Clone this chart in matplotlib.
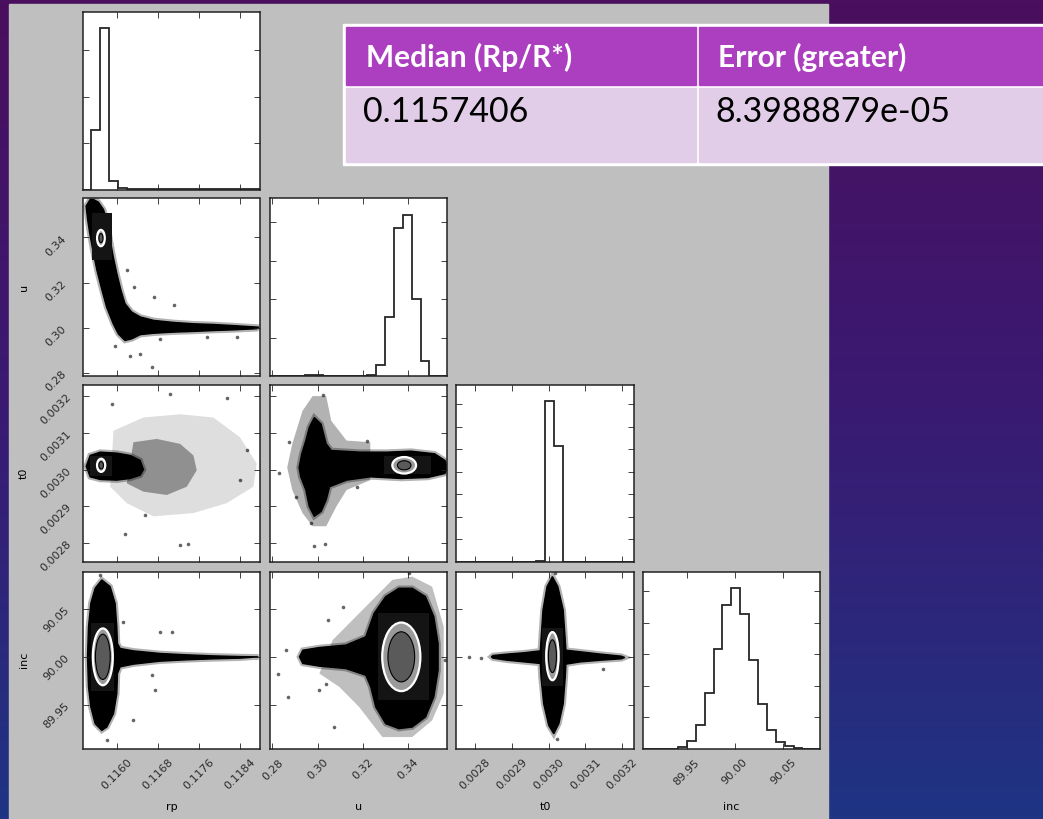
import numpy as np
import matplotlib.pyplot as plt
from matplotlib.patches import Polygon, Ellipse, Rectangle
from matplotlib.colors import LinearSegmentedColormap

W, H = 1043, 819

# parameter names, ranges and ticks
names = ['rp', 'u', 't0', 'inc']
lims = {'rp': (0.11533, 0.11880), 'u': (0.2787, 0.3572),
        't0': (0.002748, 0.003232), 'inc': (89.9043, 90.0886)}
ticks = {'rp': [0.1160, 0.1168, 0.1176, 0.1184],
         'u': [0.28, 0.30, 0.32, 0.34],
         't0': [0.0028, 0.0029, 0.0030, 0.0031, 0.0032],
         'inc': [89.95, 90.00, 90.05]}
tick_text = {'rp': ['0.1160', '0.1168', '0.1176', '0.1184'],
             'u': ['0.28', '0.30', '0.32', '0.34'],
             't0': ['0.0028', '0.0029', '0.0030', '0.0031', '0.0032'],
             'inc': ['89.95', '90.00', '90.05']}

# 1D histograms (20 bins over the range)
rp_counts = [0, 6370, 17390, 864, 108, 54, 32, 22, 11, 11, 5, 5, 3, 3, 2, 2, 1, 1, 1, 1]
u_counts = [15, 15, 15, 20, 30, 55, 20, 15, 15, 15, 20, 50, 573, 3053, 7690, 8404, 4012, 797, 15, 0]
t0_counts = [0, 0, 0, 0, 0, 0, 0, 0, 0, 44, 7156, 5156, 22, 0, 0, 0, 0, 0, 0, 0]
inc_counts = [0, 0, 0, 5, 63, 253, 758, 1769, 3169, 4579, 5116, 4274, 2821, 1432, 590, 211, 84, 32, 11, 5]
hist_step = {'rp': 5000, 'u': 2000, 't0': 1000, 'inc': 1000}

# 2D sample clouds, outlines
rp_u_cloud = [(0.11548, 0.3568), (0.11540, 0.3538), (0.11543, 0.3479), (0.11547, 0.3419),
              (0.11553, 0.3345), (0.11561, 0.3256), (0.11571, 0.3167), (0.11580, 0.3092),
              (0.11593, 0.3018), (0.11603, 0.2973), (0.11616, 0.2944), (0.11629, 0.2951),
              (0.11646, 0.2970), (0.11672, 0.2976), (0.11711, 0.2981), (0.11750, 0.2984),
              (0.11789, 0.2988), (0.11828, 0.2991), (0.11873, 0.2996), (0.11877, 0.3003),
              (0.11828, 0.3010), (0.11789, 0.3015), (0.11750, 0.3018), (0.11711, 0.3024),
              (0.11672, 0.3033), (0.11646, 0.3048), (0.11629, 0.3070), (0.11616, 0.3107),
              (0.11608, 0.3167), (0.11600, 0.3241), (0.11593, 0.3315), (0.11587, 0.3390),
              (0.11582, 0.3464), (0.11574, 0.3523), (0.11564, 0.3556), (0.11554, 0.3568)]
rp_u_strays = [(0.11626, 0.2877), (0.11668, 0.2829), (0.11646, 0.2884), (0.11620, 0.3256),
               (0.11633, 0.3181), (0.11672, 0.3137), (0.11711, 0.3100), (0.11597, 0.2921),
               (0.11685, 0.2951), (0.11834, 0.2958), (0.11776, 0.2958)]

rp_t0_cloud = [(0.115402, 0.0030090), (0.115480, 0.0030386), (0.115675, 0.0030476),
               (0.116000, 0.0030449), (0.116260, 0.0030386), (0.116455, 0.0030252),
               (0.116520, 0.0030000), (0.116455, 0.0029847), (0.116260, 0.0029757),
               (0.116000, 0.0029712), (0.115675, 0.0029730), (0.115480, 0.0029802)]
rp_t0_halo = [(0.116325, 0.0030746), (0.116780, 0.0030836), (0.117236, 0.0030701),
              (0.117496, 0.0030386), (0.117561, 0.0029982), (0.117366, 0.0029533),
              (0.116976, 0.0029308), (0.116520, 0.0029398), (0.116195, 0.0029623)]
rp_t0_outer = [(0.115935, 0.0031060), (0.116520, 0.0031420), (0.117236, 0.0031509),
               (0.117886, 0.0031420), (0.118406, 0.0030881), (0.118732, 0.0030162),
               (0.118667, 0.0029533), (0.118146, 0.0029084), (0.117496, 0.0028814),
               (0.116715, 0.0028724), (0.116195, 0.0029084), (0.115870, 0.0029533)]
rp_t0_strays = [(0.117236, 0.0027933), (0.117398, 0.0027969), (0.118146, 0.0031959),
                (0.115902, 0.0031779), (0.117041, 0.0032049), (0.118537, 0.0030521),
                (0.116553, 0.0028769), (0.116163, 0.0028230), (0.118406, 0.0029712)]

u_t0_cloud = [(0.29850, 0.0031420), (0.30150, 0.0031240), (0.30375, 0.0030701),
              (0.30599, 0.0030521), (0.31873, 0.0030476), (0.33071, 0.0030476),
              (0.34120, 0.0030503), (0.35168, 0.0030431), (0.35618, 0.0030252),
              (0.35737, 0.0030054), (0.35618, 0.0029892), (0.34869, 0.0029784),
              (0.33670, 0.0029757), (0.32322, 0.0029802), (0.31273, 0.0029712),
              (0.30524, 0.0029533), (0.30375, 0.0029173), (0.30150, 0.0028859),
              (0.29850, 0.0028724), (0.29626, 0.0028994), (0.29476, 0.0029443),
              (0.29251, 0.0029802), (0.29176, 0.0030054), (0.29296, 0.0030431),
              (0.29476, 0.0030791), (0.29626, 0.0031150)]
u_t0_halo = [(0.29326, 0.0031599), (0.29775, 0.0032004), (0.30375, 0.0032004),
             (0.30599, 0.0031330), (0.31273, 0.0030791), (0.32322, 0.0030746),
             (0.32322, 0.0029712), (0.31273, 0.0029443), (0.30824, 0.0028994),
             (0.30375, 0.0028455), (0.29775, 0.0028455), (0.29326, 0.0028814),
             (0.28876, 0.0029443), (0.28652, 0.0030054), (0.28876, 0.0030701)]
u_t0_strays = [(0.2985, 0.0027915), (0.3030, 0.0027960), (0.30225, 0.0032031),
               (0.28727, 0.0030764), (0.28277, 0.0029910), (0.29026, 0.0029263),
               (0.32172, 0.0030791), (0.2970, 0.0028544), (0.31723, 0.0029533)]

rp_inc_cloud = [(0.115707, 90.0799), (0.115870, 90.0729), (0.115967, 90.0556),
                (0.116000, 90.0312), (0.116013, 90.0139), (0.116065, 90.0087),
                (0.116325, 90.0062), (0.116846, 90.0035), (0.117366, 90.0021),
                (0.117886, 90.0010), (0.118406, 90.0003), (0.118764, 90.0000),
                (0.118406, 89.9986), (0.117886, 89.9979), (0.117366, 89.9969),
                (0.116846, 89.9955), (0.116325, 89.9924), (0.116065, 89.9896),
                (0.116013, 89.9826), (0.116000, 89.9618), (0.115935, 89.9410),
                (0.115805, 89.9271), (0.115707, 89.9236), (0.115577, 89.9306),
                (0.115493, 89.9479), (0.115447, 89.9688), (0.115428, 90.0000),
                (0.115447, 90.0312), (0.115493, 90.0556), (0.115577, 90.0712)]
rp_inc_strays = [(0.116325, 89.9340), (0.116748, 89.9653), (0.116130, 90.0365),
                 (0.116846, 90.0260), (0.117073, 90.0260), (0.115805, 89.9132),
                 (0.115675, 90.0851), (0.116683, 89.9809)]

u_inc_cloud = [(0.29194, 90.0000), (0.29341, 90.0069), (0.30073, 90.0097), (0.31245, 90.0122),
               (0.32124, 90.0208), (0.32491, 90.0451), (0.33003, 90.0625), (0.33589, 90.0712),
               (0.34175, 90.0712), (0.34761, 90.0625), (0.35128, 90.0417), (0.35318, 90.0139),
               (0.35318, 89.9861), (0.35128, 89.9583), (0.34761, 89.9375), (0.34175, 89.9271),
               (0.33589, 89.9254), (0.33003, 89.9306), (0.32564, 89.9479), (0.32344, 89.9688),
               (0.32124, 89.9809), (0.31245, 89.9878), (0.30073, 89.9903), (0.29341, 89.9931)]
u_inc_halo = [(0.30659, 90.0174), (0.31538, 90.0382), (0.32417, 90.0590), (0.33296, 90.0799),
              (0.34175, 90.0833), (0.35054, 90.0729), (0.35567, 90.0312), (0.35567, 89.9618),
              (0.35054, 89.9340), (0.34175, 89.9167), (0.32857, 89.9167), (0.31831, 89.9479),
              (0.30952, 89.9688), (0.30073, 89.9826)]
u_inc_strays = [(0.28608, 90.0069), (0.28242, 89.9826), (0.28682, 89.9583), (0.30366, 89.9722),
                (0.30732, 89.9271), (0.30440, 90.0382), (0.31099, 90.0521), (0.30073, 89.9653),
                (0.34029, 90.0868), (0.35640, 89.9965)]

t0_inc_cloud = [(0.0030101, 90.0833), (0.0030248, 90.0729), (0.0030395, 90.0486),
                (0.0030451, 90.0174), (0.0030469, 90.0069), (0.0030874, 90.0052),
                (0.0031425, 90.0028), (0.0031977, 90.0007), (0.0032069, 89.9993),
                (0.0031977, 89.9979), (0.0031425, 89.9965), (0.0030874, 89.9948),
                (0.0030469, 89.9924), (0.0030451, 89.9792), (0.0030395, 89.9514),
                (0.0030276, 89.9306), (0.0030138, 89.9201), (0.0030000, 89.9288),
                (0.0029862, 89.9514), (0.0029789, 89.9792), (0.0029770, 89.9931),
                (0.0029310, 89.9948), (0.0028851, 89.9965), (0.0028483, 89.9986),
                (0.0028437, 90.0000), (0.0028483, 90.0014), (0.0028851, 90.0028),
                (0.0029310, 90.0042), (0.0029770, 90.0062), (0.0029789, 90.0174),
                (0.0029844, 90.0486), (0.0029954, 90.0729)]
t0_inc_strays = [(0.0027839, 90.0000), (0.0028161, 89.9983), (0.0031471, 89.9878),
                 (0.0030184, 90.0868), (0.0030230, 89.9149)]

# density block around the peak and two contour levels: centre, outer (w, h), inner (w, h)
peak_block = {(1, 0): (0.11551, 0.3300, 0.11590, 0.3509),
              (2, 0): (0.11548, 0.002982, 0.11590, 0.003038),
              (2, 1): (0.3292, 0.002987, 0.3502, 0.003037),
              (3, 0): (0.11550, 89.965, 0.11595, 90.035),
              (3, 1): (0.3265, 89.955, 0.3490, 90.045),
              (3, 2): (0.002982, 89.97, 0.003040, 90.03)}
contours = {(1, 0): ((0.11569, 0.3397), (0.000150, 0.0072), (0.00008, 0.0040)),
            (2, 0): ((0.115694, 0.0030117), (0.000160, 0.000036), (0.00009, 0.000020)),
            (2, 1): ((0.3382, 0.0030117), (0.0105, 0.000045), (0.0060, 0.000025)),
            (3, 0): ((0.115727, 90.0), (0.00039, 0.059), (0.00029, 0.047)),
            (3, 1): ((0.33692, 90.0), (0.01685, 0.0712), (0.0118, 0.052)),
            (3, 2): ((0.0030101, 90.0007), (0.000034, 0.050), (0.000022, 0.034))}

hists = {'rp': rp_counts, 'u': u_counts, 't0': t0_counts, 'inc': inc_counts}
# cloud outline, (halo outline, opacity) pairs, stray samples
clouds = {(1, 0): (rp_u_cloud, [], rp_u_strays),
          (2, 0): (rp_t0_cloud, [(rp_t0_outer, 0.13), (rp_t0_halo, 0.35)], rp_t0_strays),
          (2, 1): (u_t0_cloud, [(u_t0_halo, 0.3)], u_t0_strays),
          (3, 0): (rp_inc_cloud, [], rp_inc_strays),
          (3, 1): (u_inc_cloud, [(u_inc_halo, 0.25)], u_inc_strays),
          (3, 2): (t0_inc_cloud, [], t0_inc_strays)}

# table
table_head = ['Median (Rp/R*)', 'Error (greater)']
table_row = ['0.1157406', '8.3988879e-05']

fig = plt.figure(figsize=(W / 100, H / 100), dpi=100)

# slide background + grey figure area
bg = fig.add_axes([0, 0, 1, 1], zorder=-10)
bg_cmap = LinearSegmentedColormap.from_list('slide', ['#4a0f5e', '#3a1a72', '#1f3484'])
bg.imshow(np.linspace(0, 1, 256).reshape(-1, 1), cmap=bg_cmap, aspect='auto',
          extent=[0, 1, 0, 1])
bg.set_xlim(0, 1)
bg.set_ylim(0, 1)
bg.set_axis_off()


def px(x, y):
    return x / W, 1 - y / H


bg.add_patch(Rectangle(px(9, 819), (828 - 9) / W, (819 - 4) / H, color='#bfbfbf'))

# table drawn on the background
bg.add_patch(Rectangle(px(343, 164.5), 1 - 343 / W, 140 / H, color='white'))
for x0, x1 in [(345.5, 696), (699, 1045)]:
    bg.add_patch(Rectangle(px(x0, 84.5), (x1 - x0) / W, 57.5 / H, color='#ab3fbf'))
    bg.add_patch(Rectangle(px(x0, 162), (x1 - x0) / W, 74 / H, color='#e1cde8'))
for x, head, val in zip([366, 718], table_head, table_row):
    bg.text(*px(x, 57), head, color='white', fontsize=21.5, fontweight='bold',
            family='Lato', va='center', ha='left')
    bg.text(*px(x - 3, 112), val, color='black', fontsize=24.5,
            family='Lato', va='center', ha='left')

col_x = [82.5, 269.5, 456.2, 642.5]
row_y = [12.0, 198.5, 384.5, 571.5]
pw, ph = 177.7, 177.5
fs = 8

for i in range(4):
    for j in range(i + 1):
        ax = fig.add_axes([col_x[j] / W, 1 - (row_y[i] + ph) / H, pw / W, ph / H])
        xn = names[j]
        ax.set_xlim(*lims[xn])
        if i == j:
            counts = hists[xn]
            edges = np.linspace(lims[xn][0], lims[xn][1], len(counts) + 1)
            ax.stairs(counts, edges, color='#262626', lw=1.3)
            ax.set_ylim(0, 1.1 * max(counts))
            step = hist_step[xn]
            ax.set_yticks(np.arange(step, 1.1 * max(counts), step))
            ax.set_yticklabels([])
        else:
            yn = names[i]
            ax.set_ylim(*lims[yn])
            cloud, halos, strays = clouds[(i, j)]
            for halo, a in halos:
                ax.add_patch(Polygon(halo, closed=True, fc='k', ec='none', alpha=a))
            ax.add_patch(Polygon(cloud, closed=True, fc='none', ec='k', lw=4, alpha=0.3))
            ax.add_patch(Polygon(cloud, closed=True, fc='k', ec='k', lw=1))
            sx, sy = zip(*strays)
            ax.plot(sx, sy, 'o', ms=2.6, color='k', alpha=0.6, mew=0)
            bx0, by0, bx1, by1 = peak_block[(i, j)]
            ax.add_patch(Rectangle((bx0, by0), bx1 - bx0, by1 - by0, fc='#141414', ec='none'))
            centre, outer, inner = contours[(i, j)]
            ax.add_patch(Ellipse(centre, outer[0], outer[1], fc='#9a9a9a', ec='white', lw=1.6))
            ax.add_patch(Ellipse(centre, inner[0], inner[1], fc='#5a5a5a', ec='k', lw=0.8))
            ax.set_yticks(ticks[yn])
            if j == 0:
                ax.set_yticklabels(tick_text[yn], rotation=45, ha='center', fontsize=fs)
                ax.tick_params(axis='y', pad=19)
                ax.set_ylabel(yn, fontsize=fs)
                ax.yaxis.set_label_coords(-0.3, 0.5)
            else:
                ax.set_yticklabels([])
        ax.set_xticks(ticks[xn])
        if i == 3:
            ax.set_xticklabels(tick_text[xn], rotation=45, fontsize=fs)
            ax.tick_params(axis='x', pad=6)
            ax.set_xlabel(xn, fontsize=fs)
            ax.xaxis.set_label_coords(0.5, -0.3)
        else:
            ax.set_xticklabels([])
        ax.set_facecolor('white')
        ax.tick_params(direction='in', top=True, right=True, length=4, width=0.6,
                       colors='#222222', labelcolor='#2a2a2a')
        for s in ax.spines.values():
            s.set_linewidth(1.1)
            s.set_color('#222222')

fig.savefig('out.png', dpi=100)
